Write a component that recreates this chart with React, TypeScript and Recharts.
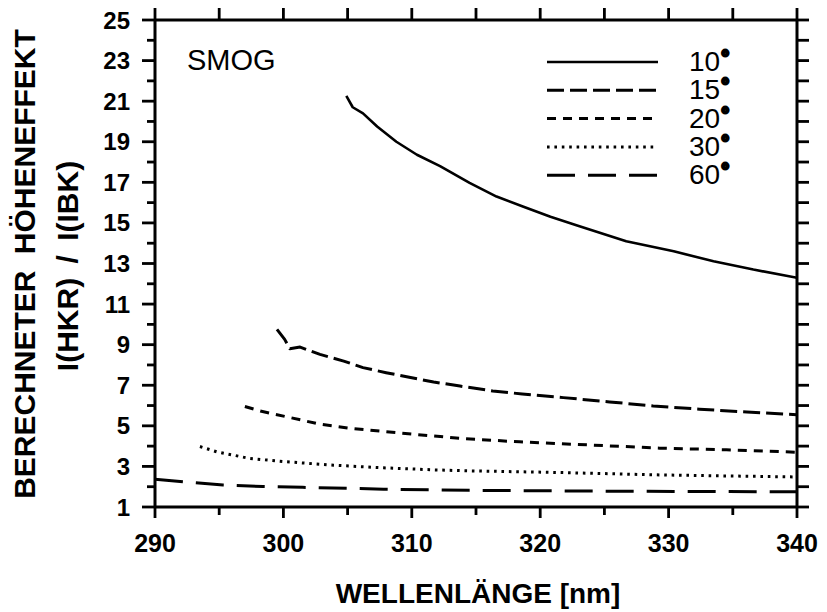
import { LineChart, Line, XAxis, YAxis } from "recharts";

const wl10 = [304.9, 305.4, 306.2, 307.3, 308.8, 310.4, 312.2, 314.5, 316.6, 318.7, 320.8, 323.0, 326.7, 330.4, 333.5, 336.6, 340];
const v10 = [21.26, 20.7, 20.4, 19.75, 19.0, 18.36, 17.8, 16.97, 16.3, 15.8, 15.3, 14.85, 14.1, 13.6, 13.11, 12.7, 12.3];

const wl15 = [299.5, 300.1, 300.5, 301.3, 302.85, 304.7, 306.2, 308.0, 309.9, 311.7, 313.75, 316.3, 318.6, 321.8, 325.4, 328.8, 332.4, 336.1, 340];
const v15 = [9.75, 9.26, 8.8, 8.88, 8.52, 8.19, 7.87, 7.62, 7.38, 7.16, 6.96, 6.72, 6.57, 6.39, 6.18, 5.98, 5.82, 5.68, 5.55];

const wl20 = [297.0, 298.2, 300.5, 302.85, 305.2, 307.8, 310.4, 314.0, 318.4, 324.1, 329.3, 334.5, 340];
const v20 = [5.95, 5.73, 5.41, 5.08, 4.88, 4.72, 4.57, 4.37, 4.21, 4.05, 3.9, 3.82, 3.7];

const wl30 = [293.5, 294.8, 297.4, 300.0, 303.9, 307.8, 311.7, 314.5, 321.5, 329.3, 340];
const v30 = [3.98, 3.72, 3.39, 3.24, 3.06, 2.93, 2.83, 2.78, 2.7, 2.58, 2.48];

const wl60 = [290, 292.2, 295.3, 298.4, 301.5, 307.8, 314.5, 325, 340];
const v60 = [2.37, 2.24, 2.08, 2.01, 1.97, 1.88, 1.82, 1.78, 1.75];

const angles = ["10", "15", "20", "30", "60"];
const xTicks = [290, 295, 300, 305, 310, 315, 320, 325, 330, 335, 340];
const yTicks = [1, 2, 3, 4, 5, 6, 7, 8, 9, 10, 11, 12, 13, 14, 15, 16, 17, 18, 19, 20, 21, 22, 23, 24, 25];

const zip = (xs: number[], ys: number[]) => xs.map((x, i) => ({ x, y: ys[i] }));

const series = [
  { name: angles[0], data: zip(wl10, v10), dash: undefined, width: 2.6 },
  { name: angles[1], data: zip(wl15, v15), dash: "17 6", width: 3 },
  { name: angles[2], data: zip(wl20, v20), dash: "9 7", width: 3 },
  { name: angles[3], data: zip(wl30, v30), dash: "2.6 4.8", width: 3 },
  { name: angles[4], data: zip(wl60, v60), dash: "28 13", width: 3 },
];

const FONT = "'Liberation Sans', Arial, Helvetica, sans-serif";
const AXIS = { stroke: "#000", strokeWidth: 3 };

function LeftTick({ x, y, payload }: any) {
  const major = payload.value % 2 === 1;
  return (
    <g>
      <line x1={x - (major ? 13 : 8)} x2={x} y1={y} y2={y} stroke="#000" strokeWidth={2.8} />
      {major && (
        <text x={x - 25} y={y + 8.5} textAnchor="end" fontFamily={FONT} fontWeight="bold" fontSize={24} fill="#000">
          {payload.value}
        </text>
      )}
    </g>
  );
}

function RightTick({ x, y }: any) {
  return <line x1={x} x2={x + 12} y1={y} y2={y} stroke="#000" strokeWidth={2.8} />;
}

function BottomTick({ x, y, payload }: any) {
  const major = payload.value % 10 === 0;
  return (
    <g>
      <line x1={x} x2={x} y1={y} y2={y + (major ? 11 : 8)} stroke="#000" strokeWidth={2.8} />
      {major && (
        <text x={x} y={y + 45} textAnchor="middle" fontFamily={FONT} fontWeight="bold" fontSize={25} fill="#000">
          {payload.value}
        </text>
      )}
    </g>
  );
}

function TopTick({ x, y }: any) {
  return <line x1={x} x2={x} y1={y} y2={y - 12} stroke="#000" strokeWidth={2.8} />;
}

export default function App() {
  return (
    <div style={{ position: "absolute", left: 0, top: 0, background: "#fff" }}>
      <LineChart width={827} height={612} margin={{ top: 19, right: 29, bottom: 104, left: 154 }}>
        <XAxis
          type="number" dataKey="x" domain={[290, 340]} ticks={xTicks} interval={0}
          height={1} tickSize={0} tickMargin={0} tick={<BottomTick />}
          axisLine={AXIS} allowDataOverflow
        />
        <XAxis
          xAxisId="top" orientation="top" type="number" dataKey="x" domain={[290, 340]} ticks={xTicks} interval={0}
          height={1} tickSize={0} tickMargin={0} tick={<TopTick />}
          axisLine={AXIS} allowDataOverflow
        />
        <YAxis
          type="number" domain={[1, 25]} ticks={yTicks} interval={0}
          width={1} tickSize={0} tickMargin={0} tick={<LeftTick />}
          axisLine={AXIS} allowDataOverflow
        />
        <YAxis
          yAxisId="right" orientation="right" type="number" domain={[1, 25]} ticks={yTicks} interval={0}
          width={1} tickSize={0} tickMargin={0} tick={<RightTick />}
          axisLine={AXIS} allowDataOverflow
        />
        {series.map((s) => (
          <Line
            key={s.name} data={s.data} dataKey="y" type="linear" stroke="#000"
            strokeWidth={s.width} strokeDasharray={s.dash} dot={false} activeDot={false}
            isAnimationActive={false} strokeLinecap="butt" strokeLinejoin="round"
          />
        ))}
        {/* labels */}
        <text x={187} y={70} fontFamily={FONT} fontSize={29} fill="#000">SMOG</text>
        {series.map((s, i) => (
          <g key={"lg" + s.name}>
            <line x1={547} x2={658} y1={62 + i * 28.3} y2={62 + i * 28.3} stroke="#000" strokeWidth={s.width} strokeDasharray={s.dash} />
            <text x={689} y={71 + i * 28.3} fontFamily={FONT} fontSize={28} fill="#000">
              {s.name}
              <tspan dx={1} dy={-6} fontSize={20} stroke="#000" strokeWidth={3}>°</tspan>
            </text>
          </g>
        ))}
        <text x={478} y={603} textAnchor="middle" fontFamily={FONT} fontWeight="bold" fontSize={28} fill="#000">
          WELLENLÄNGE [nm]
        </text>
        <text transform="translate(35,264) rotate(-90)" textAnchor="middle" fontFamily={FONT} fontWeight="bold" fontSize={30} fill="#000" wordSpacing={8}>
          BERECHNETER HÖHENEFFEKT
        </text>
        <text transform="translate(78,266) rotate(-90)" textAnchor="middle" fontFamily={FONT} fontWeight="bold" fontSize={30} fill="#000" wordSpacing={6}>
          I(HKR) / I(IBK)
        </text>
      </LineChart>
    </div>
  );
}
